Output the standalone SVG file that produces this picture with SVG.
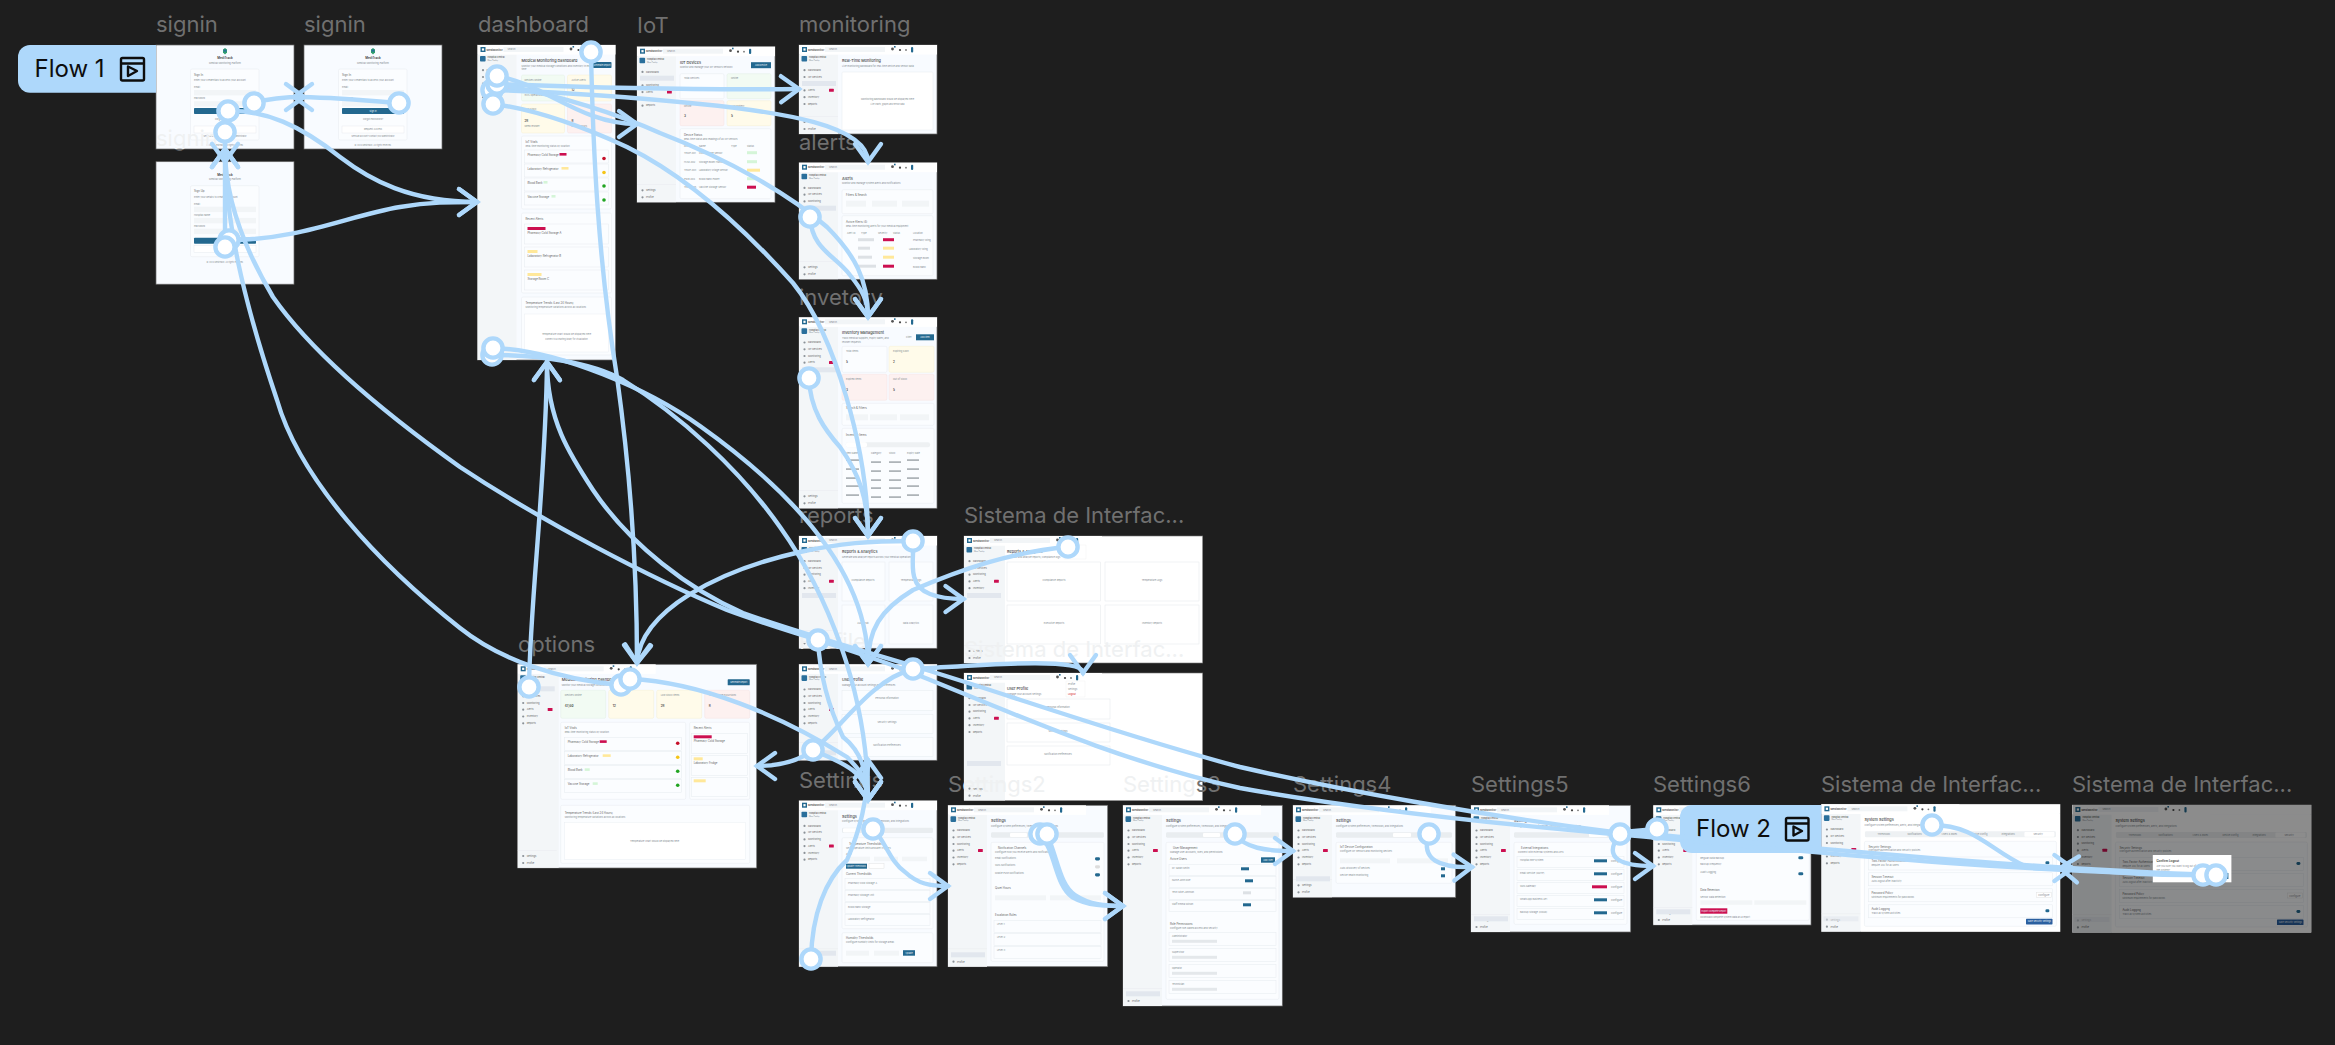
<svg xmlns="http://www.w3.org/2000/svg" width="2335" height="1045" viewBox="0 0 2335 1045">
<style>
text{font-family:Inter,"Liberation Sans",sans-serif}
.lb{font-size:22px;fill:#707070}
.fa{fill:#eff1f2}
.fr{fill:#f8fbff;stroke:#6a6a6a;stroke-width:.7}
.wh{fill:#fff}
.side{fill:#f3f6f8}
.card{fill:#fbfdff;stroke:#e6ebef;stroke-width:.5}
.in{fill:#f2f5f7}
.act{fill:#e2e7ee}
.g{fill:#f2fbf3;stroke:#dfeee0;stroke-width:.4}
.y{fill:#fffbea;stroke:#f6eecb;stroke-width:.4}
.r{fill:#fdf1f0;stroke:#f5dfdd;stroke-width:.4}
.bt{fill:#23688f}
.rd{fill:#cc0f50}
.t1{font-size:3.8px;fill:#444;font-weight:500}
.t2{font-size:2.4px;fill:#868d92}
.t3{font-size:2.8px;fill:#666}
.t4{font-size:3px;fill:#333;font-weight:600}
.tw{font-size:2.2px;fill:#e8f2f8}
.tc{text-anchor:middle}
.c{fill:none;stroke:#aed8fb;stroke-width:4.4;stroke-linecap:round}
.e{marker-end:url(#ah)}
.o{fill:#fff;stroke:#aed8fb;stroke-width:4.4}
.tag{fill:#aed8fb}
.tt{font-size:24px;fill:#0d0d0d}
.ic{fill:none;stroke:#0d0d0d;stroke-width:2.4;stroke-linejoin:round}
</style>
<defs>
<linearGradient id="lbg" gradientUnits="userSpaceOnUse" x1="0" y1="130" x2="0" y2="155"><stop offset=".76" stop-color="#eff1f2"/><stop offset=".76" stop-color="#707070"/></linearGradient>
<marker id="ah" markerUnits="userSpaceOnUse" markerWidth="44" markerHeight="44" refX="22" refY="22" orient="auto" overflow="visible"><path d="M4 9L22 22L4 35" fill="none" stroke="#aed8fb" stroke-width="4.4" stroke-linecap="round"/></marker>
<g id="head">
<rect class="wh" width="138" height="9.5"/>
<rect x="3" y="2" width="5" height="5" class="bt"/><rect x="4.4" y="3.4" width="2.2" height="2.2" class="wh"/>
<text x="9" y="5.6" class="t3" style="font-weight:700;font-size:2.6px">MediMonitor</text>
<rect x="26" y="2" width="60" height="5" class="in"/><text x="30" y="5.3" class="t2">Search...</text>
<circle cx="93.5" cy="4" r="1.4" fill="#555"/><rect x="95" y="1" width="1.6" height="1.6" class="bt"/><circle cx="101" cy="5" r="1.1" fill="#444"/><circle cx="107" cy="5" r=".9" fill="#777"/><rect x="112" y="2" width="2.2" height="5.4" rx="1" class="bt"/>
</g>
<g id="nav">
<rect x="2.5" y="11" width="5.6" height="5.6" rx=".8" fill="#2a6f9b"/>
<text x="10" y="13.4" class="t3" style="font-size:2.2px;font-weight:600">Hospital Central</text><text x="10" y="16.2" class="t2" style="font-size:1.8px">Main Facility</text>
<g class="t3"><text x="9" y="26" class="t3" style="font-size:2.5px">Dashboard</text><text x="9" y="32.7" class="t3" style="font-size:2.5px">IoT Devices</text><text x="9" y="39.4" class="t3" style="font-size:2.5px">Monitoring</text><text x="9" y="46.1" class="t3" style="font-size:2.5px">Alerts</text><text x="9" y="53" class="t3" style="font-size:2.5px">Inventory</text><text x="9" y="59.8" class="t3" style="font-size:2.5px">Reports</text></g>
<g fill="#8a9197"><circle cx="5.5" cy="25.2" r="1.1"/><circle cx="5.5" cy="32" r="1.1"/><circle cx="5.5" cy="38.7" r="1.1"/><circle cx="5.5" cy="45.4" r="1.1"/><circle cx="5.5" cy="52.2" r="1.1"/><circle cx="5.5" cy="59" r="1.1"/></g>
<rect x="30" y="43.8" width="4.8" height="3" rx=".5" class="rd"/>
</g>
<g id="foot">
<rect y="-18" width="39" height=".4" fill="#e6e9ec"/>
<circle cx="5.5" cy="-12" r="1.1" fill="#8a9197"/><text x="9" y="-11.2" class="t3" style="font-size:2.5px">Settings</text>
<circle cx="5.5" cy="-5" r="1.1" fill="#8a9197"/><text x="9" y="-4.2" class="t3" style="font-size:2.5px">Profile</text>
</g>
<g id="login">
<rect class="fr" width="138" height="104"/>
<path d="M69 3l2 1.6v3l-2 2-2-2v-3z" fill="#2f9e6e"/><rect x="67.6" y="4.6" width="2.8" height="2" fill="#2a6f9b"/>
<text x="69" y="14.2" class="t4 tc">MediTrack</text><text x="69" y="18.6" class="t2 tc">Medical Monitoring Platform</text>
<rect x="34.5" y="24" width="68.5" height="71" rx="1.5" class="card"/>
<text x="38" y="30.5" class="t3">Sign In</text><text x="38" y="36" class="t2">Enter your credentials to access your account</text>
<text x="38" y="43" class="t2" fill="#333">Email</text><rect x="38" y="45" width="62" height="5.4" class="in"/>
<text x="38" y="54" class="t2">Password</text><rect x="38" y="56.2" width="62" height="5.4" class="in"/>
<rect x="38" y="63" width="62" height="6" rx=".8" class="bt"/><text x="69" y="67" class="tw tc">Sign In</text>
<text x="69" y="75" class="t2 tc">Forgot Password?</text>
<rect x="38" y="81" width="62" height="7" class="wh" stroke="#e3e7ea" stroke-width=".4"/><text x="69" y="85.4" class="t2 tc">Request Access</text>
<text x="69" y="92" class="t2 tc" style="font-size:2px">Need an account? Contact your administrator</text>
<text x="69" y="100.5" class="t2 tc" style="font-size:2px">© 2024 MediTrack. All rights reserved.</text>
</g>
<g id="sys">
<rect class="fr" width="238.7" height="127.4"/>
<rect class="wh" width="238.7" height="9.5"/><rect x="39" y="9.5" width="199.7" height="117.9" class="wh"/>
<rect y="9.5" width="39" height="117.9" class="side"/>
<use href="#head"/><use href="#nav"/><use href="#foot" y="127.4"/><rect x="2" y="112" width="35" height="5" class="act" opacity=".6"/>
<text x="43" y="17" class="t1">System Settings</text><text x="43" y="21.5" class="t2">Configure system preferences, alerts, and integrations</text>
<rect x="43.5" y="27" width="191" height="6" rx="1.4" fill="#eef1f3"/><rect x="203" y="27.6" width="30" height="4.8" rx="1" class="wh"/>
<text x="56" y="30.8" class="t2">Thresholds</text><text x="86" y="30.8" class="t2">Notifications</text><text x="120" y="30.8" class="t2">Users &amp; Roles</text><text x="150" y="30.8" class="t2">Device Config</text><text x="180" y="30.8" class="t2">Integrations</text><text x="212" y="30.8" class="t2">Security</text>
<rect x="43" y="37" width="192" height="85" rx="1.5" class="card"/>
<text x="47" y="43.5" class="t3">Security Settings</text><text x="47" y="47" class="t2">Configure authentication and security policies</text>
<rect x="47" y="52.7" width="184" height="13" class="card"/><text x="50" y="58" class="t3">Two-Factor Authentication</text><text x="50" y="62" class="t2">Require 2FA for all users</text><rect x="224" y="57" width="4" height="3" rx="1.4" class="bt"/>
<rect x="47" y="68.5" width="184" height="13" class="card"/><text x="50" y="74" class="t3">Session Timeout</text><text x="50" y="78" class="t2">Auto-logout after inactivity</text>
<rect x="47" y="84.5" width="184" height="13" class="card"/><text x="50" y="90" class="t3">Password Policy</text><text x="50" y="94" class="t2">Minimum requirements for passwords</text><rect x="215" y="88" width="15" height="5" class="wh" stroke="#ddd" stroke-width=".4"/><text x="222.5" y="91.5" class="t2 tc">Configure</text>
<rect x="47" y="100.5" width="184" height="13" class="card"/><text x="50" y="106" class="t3">Audit Logging</text><text x="50" y="110" class="t2">Track all system activities</text><rect x="224" y="105" width="4" height="3" rx="1.4" class="bt"/>
<rect x="204.6" y="114.5" width="26.5" height="5.6" rx=".6" fill="#2a5f9f"/><text x="218" y="118.2" class="tw tc">Save Security Settings</text>
</g>
</defs>
<rect width="2335" height="1045" fill="#1e1e1e"/>

<g id="labels-top">
<text x="156" y="32" class="lb">signin</text><text x="304" y="32" class="lb">signin</text><text x="478" y="32" class="lb">dashboard</text><text x="637" y="33" class="lb">IoT</text><text x="799" y="32" class="lb">monitoring</text><text x="799" y="150" class="lb">alerts</text><text x="799" y="305" class="lb">invetory</text><text x="799" y="523" class="lb">reports</text><text x="964" y="523" class="lb">Sistema de Interfac...</text><text x="518" y="652" class="lb">options</text><text x="799" y="788" class="lb">Settings</text><text x="1293" y="792" class="lb">Settings4</text><text x="1471" y="792" class="lb">Settings5</text><text x="1653" y="792" class="lb">Settings6</text><text x="1821" y="792" class="lb">Sistema de Interfac...</text><text x="2072" y="792" class="lb">Sistema de Interfac...</text>
</g>

<g id="signin-1" transform="translate(156 45)"><use href="#login"/></g>
<g id="signin-2" transform="translate(304 45)"><use href="#login"/></g>
<g id="signup" transform="translate(156 161.7)">
<rect class="fr" width="138" height="122.5"/>
<path d="M69 3l2 1.6v3l-2 2-2-2v-3z" fill="#2f9e6e"/>
<text x="69" y="14.2" class="t4 tc">MediTrack</text><text x="69" y="18.6" class="t2 tc">Medical Monitoring Platform</text>
<rect x="34.5" y="24" width="68.5" height="71" rx="1.5" class="card"/>
<text x="38" y="30.5" class="t3">Sign Up</text><text x="38" y="36" class="t2">Enter your details to create an account</text>
<text x="38" y="43" class="t2">Email</text><rect x="38" y="45" width="62" height="5.4" class="in"/>
<text x="38" y="54" class="t2">Hospital name</text><rect x="38" y="56.2" width="62" height="5.4" class="in"/>
<text x="38" y="65" class="t2">Password</text><rect x="38" y="67" width="62" height="5.4" class="in"/>
<rect x="38" y="76" width="62" height="6" rx=".8" class="bt"/>
<rect x="38" y="84" width="62" height="6.5" class="wh" stroke="#e3e7ea" stroke-width=".4"/>
<text x="69" y="101" class="t2 tc" style="font-size:2px">© 2024 MediTrack. All rights reserved.</text>
</g>

<g id="dashboard" transform="translate(477.5 45)">
<rect class="fr" width="138" height="315"/><rect y="9.5" width="39" height="305.5" class="side"/>
<use href="#head"/><use href="#nav"/>
<text x="44" y="17" class="t1">Medical Monitoring Dashboard</text><text x="44" y="22" class="t2">Monitor your medical storage conditions and inventory in real</text><text x="44" y="25.4" class="t2">time</text>
<rect x="115" y="17" width="19" height="6" rx=".8" class="bt"/><text x="124.5" y="20.8" class="tw tc">Generate Report</text>
<rect x="44" y="30" width="43" height="26" rx="1.5" class="g"/><rect x="90" y="30" width="44" height="26" rx="1.5" class="y"/>
<text x="47" y="36" class="t2">Devices Online</text><text x="94" y="36" class="t2">Active Alerts</text><text x="47" y="46" class="t4">47/50</text><text x="94" y="46" class="t4">12</text><text x="47" y="51" class="t2">94% operational</text><text x="94" y="51" class="t2">3 critical</text>
<rect x="44" y="59" width="43" height="29" rx="1.5" class="y"/><rect x="90" y="59" width="44" height="29" rx="1.5" class="r"/>
<text x="47" y="65" class="t2">Low Stock</text><text x="47" y="77" class="t4">28</text><text x="94" y="77" class="t4">8</text><text x="47" y="82" class="t2">Need reorder</text><text x="94" y="82" class="t2">Last 24 hours</text>
<rect x="44" y="91" width="90" height="73" rx="1.5" class="card"/>
<text x="48" y="98" class="t3">IoT Vitals</text><text x="48" y="102" class="t2">Real-time monitoring status by location</text>
<g><rect x="47" y="105" width="84" height="13" class="card"/><rect x="47" y="119" width="84" height="13" class="card"/><rect x="47" y="133" width="84" height="13" class="card"/><rect x="47" y="147" width="84" height="13" class="card"/>
<text x="50" y="110.5" class="t3">Pharmacy Cold Storage</text><text x="50" y="124.5" class="t3">Laboratory Refrigerator</text><text x="50" y="138.5" class="t3">Blood Bank</text><text x="50" y="152.5" class="t3">Vaccine Storage</text>
<rect x="82" y="108" width="7" height="2.6" class="rd"/><rect x="84" y="122" width="7" height="2.6" fill="#ffe89a"/><rect x="66" y="136" width="4" height="2.6" fill="#d5f5d8"/><rect x="74" y="150" width="4" height="2.6" fill="#d5f5d8"/>
<circle cx="126.5" cy="113.5" r="1.8" fill="#c6102a"/><circle cx="126.5" cy="127.5" r="1.8" fill="#f5c518"/><circle cx="126.5" cy="141" r="1.8" fill="#22a522"/><circle cx="126.5" cy="155" r="1.8" fill="#22a522"/></g>
<rect x="44" y="168" width="90" height="80" rx="1.5" class="card"/>
<text x="48" y="175" class="t3">Recent Alerts</text>
<rect x="47" y="179" width="84" height="20" class="card"/><rect x="50" y="182" width="18" height="3" class="rd"/><text x="50" y="189" class="t3">Pharmacy Cold Storage A</text>
<rect x="47" y="202" width="84" height="20" class="card"/><rect x="50" y="205" width="10" height="3" fill="#ffe89a"/><text x="50" y="211.5" class="t3">Laboratory Refrigerator B</text>
<rect x="47" y="225" width="84" height="20" class="card"/><rect x="50" y="228" width="14" height="3" fill="#ffe89a"/><text x="50" y="234.5" class="t3">Storage Room C</text>
<rect x="44" y="252" width="90" height="58" rx="1.5" class="card"/>
<text x="48" y="258.5" class="t3">Temperature Trends (Last 24 Hours)</text><text x="48" y="262.5" class="t2">Monitoring temperature variations across all locations</text>
<rect x="47" y="269" width="84" height="38" class="wh" stroke="#e6ebef" stroke-width=".4"/><text x="89" y="290" class="t2 tc">Temperature chart would be displayed here</text><text x="89" y="295" class="t2 tc" style="font-size:2px">Connect to a charting library for visualization</text>
</g>

<g id="iot" transform="translate(637 46.7)">
<rect class="fr" width="138" height="155.6"/><rect y="9.5" width="39" height="146" class="side"/>
<use href="#head"/><use href="#nav"/><use href="#foot" y="155.6"/><rect x="3" y="29" width="34" height="5" class="act"/>
<text x="43" y="17" class="t1">IoT Devices</text><text x="43" y="21.5" class="t2">Monitor and manage your IoT sensors network</text>
<rect x="114" y="15.5" width="20" height="6" class="bt"/><text x="124" y="19.5" class="tw tc">Add Device</text>
<rect x="43" y="27" width="44" height="25" rx="1.5" class="card"/><rect x="90" y="27" width="44" height="25" rx="1.5" class="g"/><rect x="43" y="54" width="44" height="25" rx="1.5" class="r"/><rect x="90" y="54" width="44" height="25" rx="1.5" class="y"/>
<text x="47" y="32" class="t2">Total Devices</text><text x="94" y="32" class="t2">Online</text><text x="47" y="60" class="t2">Offline</text><text x="94" y="60" class="t2">Low Battery</text><text x="47" y="70" class="t4">3</text><text x="94" y="70" class="t4">5</text>
<rect x="43" y="82" width="91" height="70" rx="1.5" class="card"/>
<text x="47" y="89" class="t3">Device Status</text><text x="47" y="93" class="t2">Real-time status and readings of all IoT sensors</text>
<text x="47" y="100" class="t2">Device ID</text><text x="62" y="100" class="t2">Name</text><text x="94" y="100" class="t2">Type</text><text x="110" y="100" class="t2">Status</text>
<text x="47" y="107" class="t2">TEMP-001</text><text x="62" y="107" class="t2">Cold Storage Sensor</text><rect x="110" y="104.5" width="10" height="3" fill="#d5f5d8"/>
<text x="47" y="116" class="t2">HUM-002</text><text x="62" y="116" class="t2">Storage Room Humidity</text><rect x="110" y="113.5" width="10" height="3" fill="#d5f5d8"/>
<text x="47" y="124" class="t2">TEMP-003</text><text x="62" y="124" class="t2">Laboratory Fridge Sensor</text><rect x="110" y="122" width="13" height="3" fill="#ffe89a"/>
<text x="47" y="133" class="t2">PWR-004</text><text x="62" y="133" class="t2">Blood Bank Power</text><rect x="110" y="130.5" width="10" height="3" fill="#d5f5d8"/>
<text x="47" y="141" class="t2">TEMP-005</text><text x="62" y="141" class="t2">Vaccine Storage Sensor</text><rect x="110" y="139" width="9" height="3" class="rd"/>
</g>

<g id="monitoring" transform="translate(799 45)">
<rect class="fr" width="138" height="89"/><rect y="9.5" width="39" height="79.5" class="side"/>
<use href="#head"/><use href="#nav"/><use href="#foot" y="89"/><rect x="3" y="36" width="34" height="5" class="act"/>
<text x="43" y="17" class="t1">Real-Time Monitoring</text><text x="43" y="21.5" class="t2">Live monitoring dashboard for real-time device and sensor data</text>
<rect x="43" y="27" width="91" height="58" rx="1" class="wh" stroke="#e6ebef" stroke-width=".5"/>
<text x="88.5" y="55" class="t2 tc">Monitoring dashboard would be displayed here</text><text x="88.5" y="60" class="t2 tc" style="font-size:2px">Live charts, graphs and sensor data</text>
</g>

<g id="alerts" transform="translate(799 162.7)">
<rect class="fr" width="138" height="116.6"/><rect y="9.5" width="39" height="107" class="side"/>
<use href="#head"/><use href="#nav"/><use href="#foot" y="116.6"/><rect x="3" y="43" width="34" height="5" class="act"/>
<text x="43" y="17" class="t1">Alerts</text><text x="43" y="21.5" class="t2">Monitor and manage system alerts and notifications</text>
<rect x="43" y="27" width="91" height="24" rx="1.5" class="card"/><text x="47" y="33" class="t3">Filters &amp; Search</text><rect x="47" y="38" width="20" height="6" class="in"/><rect x="73" y="38" width="25" height="6" class="in"/><rect x="103" y="38" width="27" height="6" class="in"/>
<rect x="43" y="53" width="91" height="60" rx="1.5" class="card"/><text x="47" y="60" class="t3">Active Alerts (4)</text><text x="47" y="64" class="t2">Real-time monitoring alerts for your medical equipment</text>
<text x="48" y="71" class="t2">Alert ID</text><text x="62" y="71" class="t2">Type</text><text x="79" y="71" class="t2">Severity</text><text x="94" y="71" class="t2">Status</text><text x="114" y="71" class="t2">Location</text>
<rect x="59" y="75.5" width="16" height="3" fill="#dde1e5"/><rect x="84" y="75.5" width="11" height="3" class="rd"/><text x="114" y="78.5" class="t2">Pharmacy Wing</text>
<rect x="59" y="84" width="12" height="3" fill="#dde1e5"/><rect x="84" y="84" width="11" height="3" fill="#ffe89a"/><text x="110" y="87" class="t2">Laboratory Wing</text>
<rect x="59" y="93" width="14" height="3" fill="#dde1e5"/><rect x="84" y="93" width="11" height="3" fill="#ffe89a"/><text x="114" y="96" class="t2">Storage Room</text>
<rect x="59" y="102" width="18" height="3" fill="#dde1e5"/><rect x="84" y="102" width="11" height="3" class="rd"/><text x="114" y="105" class="t2">Blood Bank</text>
</g>

<g id="inventory" transform="translate(799 317.3)">
<rect class="fr" width="138" height="191"/><rect y="9.5" width="39" height="181.5" class="side"/>
<use href="#head"/><use href="#nav"/><use href="#foot" y="191"/>
<rect x="3" y="50" width="34" height="5" class="act"/>
<text x="43" y="17" class="t1">Inventory Management</text><text x="43" y="22" class="t2">Track medical supplies, expiry dates, and</text><text x="43" y="26" class="t2">reorder requests</text>
<rect x="117" y="17" width="18" height="6" class="bt"/><text x="126" y="21" class="tw tc">Add Item</text><text x="107" y="21" class="t2">Filter</text>
<rect x="43" y="29" width="45" height="26" rx="1.5" class="card"/><rect x="90" y="29" width="45" height="26" rx="1.5" class="y"/><rect x="43" y="57" width="45" height="26" rx="1.5" class="r"/><rect x="90" y="57" width="45" height="26" rx="1.5" class="r"/>
<text x="47" y="35" class="t2">Total Items</text><text x="94" y="35" class="t2">Expiring Soon</text><text x="47" y="63" class="t2">Expired Items</text><text x="94" y="63" class="t2">Out of Stock</text><text x="47" y="46" class="t4">5</text><text x="94" y="46" class="t4">2</text><text x="47" y="74" class="t4">3</text><text x="94" y="74" class="t4">5</text>
<rect x="43" y="86" width="92" height="22" rx="1.5" class="card"/><text x="47" y="92" class="t3">Search &amp; Filters</text><rect x="47" y="97" width="22" height="6" class="in"/><rect x="71" y="97" width="27" height="6" class="in"/><rect x="101" y="97" width="29" height="6" class="in"/>
<rect x="43" y="111" width="92" height="75" rx="1.5" class="card"/><text x="47" y="119" class="t3">Inventory Items</text><rect x="47" y="125" width="84" height="5" rx="2" fill="#eef1f3"/><rect x="47" y="125" width="21" height="5" rx="2" class="wh"/>
<text x="47" y="137" class="t2">Item Name</text><text x="72" y="137" class="t2">Category</text><text x="90" y="137" class="t2">Stock</text><text x="108" y="137" class="t2">Expiry Date</text>
<g fill="#a6acb1"><rect x="47" y="142" width="13" height="1.6"/><rect x="72" y="144" width="10" height="1.6"/><rect x="90" y="144" width="12" height="1.6"/><rect x="108" y="142" width="12" height="1.6"/><rect x="47" y="151" width="13" height="1.6"/><rect x="72" y="153" width="10" height="1.6"/><rect x="90" y="153" width="12" height="1.6"/><rect x="108" y="151" width="12" height="1.6"/><rect x="47" y="160" width="13" height="1.6"/><rect x="72" y="162" width="10" height="1.6"/><rect x="90" y="162" width="12" height="1.6"/><rect x="108" y="160" width="12" height="1.6"/><rect x="47" y="168" width="13" height="1.6"/><rect x="72" y="170" width="10" height="1.6"/><rect x="90" y="170" width="12" height="1.6"/><rect x="108" y="168" width="12" height="1.6"/><rect x="47" y="177" width="13" height="1.6"/><rect x="72" y="179" width="10" height="1.6"/><rect x="90" y="179" width="12" height="1.6"/><rect x="108" y="177" width="12" height="1.6"/></g>
</g>

<g id="reports" transform="translate(799 536)">
<rect class="fr" width="138" height="112.3"/><rect y="9.5" width="39" height="103" class="side"/>
<use href="#head"/><use href="#nav"/><use href="#foot" y="112.3"/><rect x="3" y="57" width="34" height="5" class="act"/>
<text x="43" y="17" class="t1">Reports &amp; Analytics</text><text x="43" y="21.5" class="t2">Generate and analyze reports across your medical operations</text>
<rect x="43" y="26" width="43" height="39" class="card"/><rect x="90" y="26" width="44" height="39" class="card"/><rect x="43" y="69" width="43" height="39" class="card"/><rect x="90" y="69" width="44" height="39" class="card"/>
<text x="64" y="45" class="t2 tc">Compliance Reports</text><text x="112" y="45" class="t2 tc">Temperature Logs</text><text x="64" y="88" class="t2 tc">Audit Trail</text><text x="112" y="88" class="t2 tc">Data Analytics</text>
</g>

<g id="profile-small" transform="translate(799 664.3)">
<rect class="fr" width="138" height="96"/><rect y="9.5" width="39" height="86.5" class="side"/>
<use href="#head"/><use href="#nav"/><use href="#foot" y="96"/><rect x="3" y="86" width="34" height="5" class="act"/>
<text x="43" y="17" class="t1">User Profile</text><text x="43" y="21.5" class="t2">Manage your account settings and preferences</text>
<rect x="43" y="26" width="91" height="20" class="card"/><rect x="43" y="50" width="91" height="19" class="card"/><rect x="43" y="73" width="91" height="19" class="card"/>
<text x="88" y="35" class="t2 tc">Personal Information</text><text x="88" y="59" class="t2 tc">Security Settings</text><text x="88" y="82" class="t2 tc">Notification Preferences</text>
</g>

<g id="settings" transform="translate(799 800.7)">
<rect class="fr" width="138" height="166"/><rect y="9.5" width="39" height="156.5" class="side"/>
<use href="#head"/><use href="#nav"/><use href="#foot" y="166"/><rect x="3" y="150" width="34" height="5" class="act"/>
<text x="43" y="17" class="t1">Settings</text><text x="43" y="21.5" class="t2">Configure system preferences, thresholds, and integrations</text>
<rect x="43" y="27" width="91" height="5.4" rx="1.4" fill="#e9edf0"/><rect x="44" y="27.6" width="15" height="4.2" rx="1" class="wh"/>
<rect x="43" y="37" width="91" height="91" rx="1.5" class="card"/><text x="50" y="44" class="t3">Temperature Thresholds</text><text x="47" y="48" class="t2">Set temperature limits and alert triggers</text>
<text x="47" y="54" class="t2">Zone</text><rect x="47" y="56" width="24" height="4.5" class="in"/><rect x="75" y="56" width="24" height="4.5" class="in"/><rect x="103" y="56" width="25" height="4.5" class="in"/>
<rect x="47" y="63" width="21" height="5" class="bt"/><text x="57" y="66.5" class="tw tc">Update Thresholds</text><rect x="70" y="63" width="15" height="5" class="wh" stroke="#ddd" stroke-width=".4"/>
<text x="47" y="74" class="t3">Current Thresholds</text>
<rect x="46" y="78" width="85" height="11" class="card"/><text x="49" y="83" class="t2">Pharmacy Cold Storage A</text>
<rect x="46" y="90" width="85" height="11" class="card"/><text x="49" y="95" class="t2">Pharmacy Storage Unit</text>
<rect x="46" y="102" width="85" height="11" class="card"/><text x="49" y="107" class="t2">Blood Bank Storage</text>
<rect x="46" y="114" width="85" height="11" class="card"/><text x="49" y="119" class="t2">Laboratory Refrigerator</text>
<rect x="43" y="132" width="91" height="30" rx="1.5" class="card"/><text x="47" y="138" class="t3">Humidity Thresholds</text><text x="47" y="142" class="t2">Configure humidity limits for storage areas</text>
<rect x="47" y="150" width="23" height="5" class="in"/><rect x="75" y="150" width="25" height="5" class="in"/><rect x="104" y="149.5" width="12" height="5.5" class="bt"/><text x="110" y="153" class="tw tc">Update</text>
</g>

<g id="options" transform="translate(517.7 664.3)">
<rect class="fr" width="239" height="203.7"/><rect y="9.5" width="41" height="194" class="side"/>
<use href="#head"/><use href="#nav"/><use href="#foot" y="203.7"/><rect x="3" y="22" width="34" height="5" class="act"/>
<text x="44" y="17" class="t1">Medical Monitoring Dashboard</text><text x="44" y="22" class="t2">Monitor your medical storage conditions</text>
<rect x="210" y="15" width="22" height="6" rx=".6" class="bt"/><text x="221" y="19" class="tw tc">Generate Report</text>
<rect x="43" y="26" width="45" height="28" rx="1.5" class="g"/><rect x="91" y="26" width="45" height="28" rx="1.5" class="y"/><rect x="139" y="26" width="45" height="28" rx="1.5" class="y"/><rect x="187" y="26" width="45" height="28" rx="1.5" class="r"/>
<text x="47" y="32" class="t2">Devices Online</text><text x="47" y="43" class="t4">47/50</text><text x="95" y="43" class="t4">12</text><text x="143" y="43" class="t4">28</text><text x="191" y="43" class="t4">8</text><text x="143" y="32" class="t2">Low Stock Items</text><text x="191" y="32" class="t2">Temperature Excursions</text>
<rect x="43" y="58" width="125" height="77" rx="1.5" class="card"/><text x="47" y="65" class="t3">IoT Vitals</text><text x="47" y="69" class="t2">Real-time monitoring status by location</text>
<rect x="47" y="73" width="117" height="13" class="card"/><rect x="47" y="87" width="117" height="13" class="card"/><rect x="47" y="101" width="117" height="13" class="card"/><rect x="47" y="115" width="117" height="13" class="card"/>
<text x="50" y="78.5" class="t3">Pharmacy Cold Storage</text><text x="50" y="92.5" class="t3">Laboratory Refrigerator</text><text x="50" y="106.5" class="t3">Blood Bank</text><text x="50" y="120.5" class="t3">Vaccine Storage</text>
<rect x="82" y="76" width="7" height="2.6" class="rd"/><rect x="85" y="90" width="8" height="2.6" fill="#ffe89a"/><rect x="67" y="104" width="5" height="2.6" fill="#d5f5d8"/><rect x="75" y="118" width="5" height="2.6" fill="#d5f5d8"/>
<circle cx="160" cy="79" r="1.8" fill="#c6102a"/><circle cx="160" cy="93" r="1.8" fill="#f5c518"/><circle cx="160" cy="107" r="1.8" fill="#22a522"/><circle cx="160" cy="121" r="1.8" fill="#22a522"/>
<rect x="172" y="58" width="60" height="77" rx="1.5" class="card"/><text x="176" y="65" class="t3">Recent Alerts</text><rect x="174" y="69" width="56" height="20" class="card"/><rect x="176" y="71" width="18" height="3" class="rd"/><text x="176" y="78" class="t3">Pharmacy Cold Storage</text><rect x="174" y="91" width="56" height="20" class="card"/><rect x="176" y="93" width="9" height="3" fill="#ffe89a"/><text x="176" y="100" class="t3">Laboratory Fridge</text><rect x="174" y="113" width="56" height="19" class="card"/><rect x="176" y="115" width="12" height="3" fill="#ffe89a"/>
<rect x="43" y="141" width="189" height="58" rx="1.5" class="card"/><text x="47" y="150" class="t3">Temperature Trends (Last 24 Hours)</text><text x="47" y="154" class="t2">Monitoring temperature variations across all locations</text><rect x="47" y="158" width="181" height="37" class="wh" stroke="#e6ebef" stroke-width=".4"/><text x="137" y="178" class="t2 tc">Temperature chart would be displayed here</text>
</g>

<g id="sistema-reports" transform="translate(964 536)">
<rect class="wh" width="238.7" height="127" stroke="#777" stroke-width=".6"/><rect y="9.5" width="41" height="117.5" class="side"/>
<use href="#head"/><use href="#nav"/><use href="#foot" y="127"/><rect x="3" y="57" width="34" height="5" class="act"/>
<rect x="100" y="9" width="22" height="14" class="wh" stroke="#eee" stroke-width=".4"/>
<text x="43" y="17" class="t1">Reports &amp; Analytics</text><text x="43" y="21.5" class="t2">Generate and analyze reports, compliance logs</text>
<rect x="43" y="26" width="93.5" height="39" class="wh" stroke="#e3e7ea" stroke-width=".5"/><rect x="141" y="26" width="94" height="39" class="wh" stroke="#e3e7ea" stroke-width=".5"/><rect x="43" y="69" width="93.5" height="39" class="wh" stroke="#e3e7ea" stroke-width=".5"/><rect x="141" y="69" width="94" height="39" class="wh" stroke="#e3e7ea" stroke-width=".5"/>
<text x="90" y="45" class="t2 tc">Compliance Reports</text><text x="188" y="45" class="t2 tc">Temperature Logs</text><text x="90" y="88" class="t2 tc">Executive Reports</text><text x="188" y="88" class="t2 tc">Inventory Reports</text>
</g>

<g id="sistema-profile" transform="translate(964 673)">
<rect class="wh" width="238.7" height="127.7" stroke="#777" stroke-width=".6"/><rect y="9.5" width="41" height="118" class="side"/>
<use href="#head"/><use href="#nav"/><use href="#foot" y="127.7"/><rect x="3" y="88" width="34" height="5" class="act"/>
<rect x="102" y="8" width="19" height="16" class="wh" stroke="#eee" stroke-width=".4"/><text x="104" y="12" class="t2">Profile</text><text x="104" y="17" class="t2">Settings</text><text x="104" y="21.5" class="t2" style="fill:#d42020">Logout</text>
<text x="43" y="17" class="t1">User Profile</text><text x="43" y="21.5" class="t2">Manage your account settings</text>
<rect x="43" y="26" width="103" height="20" class="wh" stroke="#e3e7ea" stroke-width=".5"/><rect x="43" y="50" width="103" height="19" class="wh" stroke="#e3e7ea" stroke-width=".5"/><rect x="43" y="73" width="103" height="19" class="wh" stroke="#e3e7ea" stroke-width=".5"/>
<text x="94" y="35" class="t2 tc">Personal Information</text><text x="94" y="59" class="t2 tc">Security Settings</text><text x="94" y="82" class="t2 tc">Notification Preferences</text>
</g>

<g id="labels-over">
<text x="948" y="792" class="lb"><tspan>S</tspan><tspan class="fa">ettings2</tspan></text>
<text x="1123" y="792" class="lb"><tspan class="fa">Setting</tspan><tspan>s3</tspan></text>
<text x="156" y="146" class="lb" style="fill:url(#lbg)">signin</text>
<text x="799" y="649" class="lb fa">Profile</text>
<text x="964" y="657" class="lb fa">Sistema de Interfac...</text>
</g>

<g id="settings2" transform="translate(948 805.3)">
<rect class="fr" width="159.7" height="161.4"/><rect y="9.5" width="39" height="152" class="side"/>
<use href="#head"/><use href="#nav"/><use href="#foot" y="161.4"/><rect x="3" y="147" width="34" height="5" class="act"/>
<text x="43" y="17" class="t1">Settings</text><text x="43" y="21.5" class="t2">Configure system preferences, thresholds, and integrations</text>
<rect x="43" y="27" width="113" height="5.4" rx="1.4" fill="#e9edf0"/><rect x="62" y="27.6" width="17" height="4.2" rx="1" class="wh"/>
<rect x="43" y="37" width="113" height="119" rx="1.5" class="card"/><text x="50" y="43.5" class="t3">Notification Channels</text><text x="47" y="47.5" class="t2">Configure how you receive alerts and notifications</text>
<text x="47" y="53.5" class="t2">Email Notifications</text><text x="47" y="61" class="t2">SMS Notifications</text><text x="47" y="69" class="t2">Mobile Push Notifications</text>
<rect x="147" y="52" width="5" height="3.2" rx="1.4" class="bt"/><rect x="147" y="60" width="5" height="3.2" rx="1.4" fill="#ddd"/><rect x="147" y="68" width="5" height="3.2" rx="1.4" class="bt"/>
<text x="47" y="84" class="t3">Quiet Hours</text><rect x="47" y="90" width="51" height="5" class="in"/><rect x="102" y="90" width="51" height="5" class="in"/>
<text x="47" y="111" class="t3">Escalation Rules</text>
<rect x="46" y="115" width="107" height="12" class="card"/><text x="49" y="119.5" class="t2">Level 1</text><rect x="46" y="128" width="107" height="12" class="card"/><text x="49" y="132.5" class="t2">Level 2</text><rect x="46" y="141" width="107" height="12" class="card"/><text x="49" y="145.5" class="t2">Level 3</text>
</g>

<g id="settings3" transform="translate(1123 805.3)">
<rect class="fr" width="159.3" height="200.7"/><rect y="9.5" width="39" height="191.2" class="side"/>
<use href="#head"/><use href="#nav"/><use href="#foot" y="200.7"/><rect x="3" y="186" width="34" height="5" class="act"/>
<text x="43" y="17" class="t1">Settings</text><text x="43" y="21.5" class="t2">Configure system preferences, thresholds, and integrations</text>
<rect x="43" y="27" width="113" height="5.4" rx="1.4" fill="#e9edf0"/><rect x="80" y="27.6" width="17" height="4.2" rx="1" class="wh"/>
<rect x="43" y="37" width="113" height="157" rx="1.5" class="card"/><text x="50" y="43.5" class="t3">User Management</text><text x="47" y="47.5" class="t2">Manage user accounts, roles, and permissions</text>
<text x="47" y="55" class="t3">Active Users</text><rect x="138" y="52" width="14" height="5.4" class="bt"/><text x="145" y="55.6" class="tw tc">Add User</text>
<rect x="46" y="59" width="107" height="11" class="card"/><text x="49" y="64" class="t2">Dr. Sarah Smith</text><rect x="118" y="62" width="8" height="3" class="bt"/>
<rect x="46" y="71" width="107" height="11" class="card"/><text x="49" y="76" class="t2">Nurse John Doe</text><rect x="122" y="74" width="8" height="3" class="bt"/>
<rect x="46" y="83" width="107" height="11" class="card"/><text x="49" y="88" class="t2">Tech Mike Johnson</text><rect x="120" y="86" width="8" height="3" fill="#dde1e5"/>
<rect x="46" y="95" width="107" height="11" class="card"/><text x="49" y="100" class="t2">Staff Emma Wilson</text><rect x="120" y="98" width="8" height="3" class="bt"/>
<text x="47" y="120" class="t3">Role Permissions</text><text x="47" y="124" class="t2">Configure role-based access and security</text>
<rect x="46" y="127" width="107" height="13" class="card"/><text x="49" y="131.5" class="t2">Administrator</text><rect x="49" y="134.5" width="45" height="3" fill="#e4e8eb"/>
<rect x="46" y="143" width="107" height="13" class="card"/><text x="49" y="147.5" class="t2">Supervisor</text><rect x="49" y="150.5" width="45" height="3" fill="#e4e8eb"/>
<rect x="46" y="159" width="107" height="13" class="card"/><text x="49" y="163.5" class="t2">Operator</text><rect x="49" y="166.5" width="45" height="3" fill="#e4e8eb"/>
<rect x="46" y="175" width="107" height="13" class="card"/><text x="49" y="179.5" class="t2">Technician</text><rect x="49" y="182.5" width="45" height="3" fill="#e4e8eb"/>
</g>

<g id="settings4" transform="translate(1293 805.3)">
<rect class="fr" width="162.7" height="92"/><rect y="9.5" width="39" height="82.5" class="side"/>
<use href="#head"/><use href="#nav"/><use href="#foot" y="92"/><rect x="3" y="71" width="34" height="5" class="act"/>
<text x="43" y="17" class="t1">Settings</text><text x="43" y="21.5" class="t2">Configure system preferences, thresholds, and integrations</text>
<rect x="43" y="27" width="116" height="5.4" rx="1.4" fill="#e9edf0"/><rect x="100" y="27.6" width="18" height="4.2" rx="1" class="wh"/>
<rect x="43" y="37" width="116" height="41" rx="1.5" class="card"/><text x="47" y="43" class="t3">IoT Device Configuration</text><text x="47" y="47" class="t2">Configure IoT sensors and monitoring devices</text>
<rect x="47" y="53" width="50" height="5" class="in"/><rect x="104" y="53" width="51" height="5" class="in"/>
<text x="47" y="64" class="t2">Auto-discovery of devices</text><text x="47" y="71" class="t2">Device health monitoring</text>
<rect x="148" y="62" width="4" height="3" class="bt"/><rect x="148" y="69" width="4" height="3" class="bt"/>
</g>

<g id="settings5" transform="translate(1471 805.3)">
<rect class="fr" width="159.7" height="126.7"/><rect y="9.5" width="39" height="117.2" class="side"/>
<use href="#head"/><use href="#nav"/><use href="#foot" y="126.7"/><rect x="3" y="111" width="34" height="5" class="act"/>
<text x="43" y="17" class="t1">Settings</text><text x="43" y="21.5" class="t2">Configure system preferences, thresholds, and integrations</text>
<rect x="43" y="27" width="113" height="5.4" rx="1.4" fill="#e9edf0"/><rect x="118" y="27.6" width="18" height="4.2" rx="1" class="wh"/>
<rect x="43" y="37" width="113" height="82" rx="1.5" class="card"/><text x="50" y="43.5" class="t3">External Integrations</text><text x="47" y="47.5" class="t2">Connect with external systems and APIs</text>
<rect x="46" y="51" width="107" height="11" class="card"/><text x="49" y="56" class="t2">Hospital ERP System</text><rect x="123" y="54" width="13" height="3" class="bt"/><text x="140" y="57" class="t2">Configure</text>
<rect x="46" y="64" width="107" height="11" class="card"/><text x="49" y="69" class="t2">Email Service (SMTP)</text><rect x="123" y="67" width="13" height="3" class="bt"/><text x="140" y="70" class="t2">Configure</text>
<rect x="46" y="77" width="107" height="11" class="card"/><text x="49" y="82" class="t2">SMS Gateway</text><rect x="121" y="80" width="15" height="3" class="rd"/><text x="140" y="83" class="t2">Configure</text>
<rect x="46" y="90" width="107" height="11" class="card"/><text x="49" y="95" class="t2">WhatsApp Business API</text><rect x="123" y="93" width="13" height="3" class="bt"/><text x="140" y="96" class="t2">Configure</text>
<rect x="46" y="103" width="107" height="11" class="card"/><text x="49" y="108" class="t2">Backup Storage (Cloud)</text><rect x="123" y="106" width="13" height="3" class="bt"/><text x="140" y="109" class="t2">Configure</text>
</g>

<g id="settings6" transform="translate(1653.3 805.3)">
<rect class="fr" width="157.7" height="119.7"/><rect y="9.5" width="39" height="110" class="side"/>
<use href="#head"/><use href="#nav"/><use href="#foot" y="119.7"/><rect x="3" y="104" width="34" height="5" class="act"/>
<rect x="43" y="37" width="113" height="78" rx="1.5" class="card"/>
<text x="47" y="54" class="t2">Regular Data Backup</text><text x="47" y="60" class="t2">Backup Frequency</text><text x="47" y="68" class="t2">Audit Logging</text>
<text x="47" y="86" class="t3">Data Retention</text><text x="47" y="93" class="t2">Sensor Data Retention</text>
<rect x="47" y="95" width="52" height="4.5" class="in"/><rect x="101" y="95" width="52" height="4.5" class="in"/>
<rect x="47" y="103" width="27" height="5.4" class="rd"/><text x="60.5" y="106.8" class="tw tc">Export Complete Report</text><text x="47" y="113" class="t2">Download complete system data as a report</text>
<rect x="145" y="51" width="5" height="3" rx="1.4" class="bt"/><rect x="145" y="67" width="5" height="3" rx="1.4" class="bt"/>
</g>

<g id="sistema-a" transform="translate(1821.4 804.3)"><use href="#sys"/></g>
<g id="sistema-b" transform="translate(2072.4 805)"><use href="#sys"/><rect width="238.7" height="127.4" fill="#000" fill-opacity=".45"/>
<rect x="80.4" y="50" width="78.6" height="27.3" fill="#fff"/><text x="84" y="57" class="t4">Confirm Logout</text><text x="84" y="62" class="t2">Are you sure you want to log out of</text><text x="84" y="65.5" class="t2">the system?</text><rect x="135" y="68" width="21" height="6" class="bt"/></g>

<g id="flow-1">
<path d="M156 45H30a12 12 0 0 0-12 12v23.7a12 12 0 0 0 12 12H156z" class="tag"/>
<text x="34.5" y="77" class="tt">Flow 1</text>
<rect x="121" y="58" width="23" height="22.5" rx="1.5" class="ic"/><path d="M121 63.5H144M128 66.5L137 71L128 76z" class="ic"/>
</g>
<g id="flow-2">
<path d="M1821.4 805H1692a12 12 0 0 0-12 12v24a12 12 0 0 0 12 12H1821.4z" class="tag"/>
<text x="1696" y="837" class="tt">Flow 2</text>
<rect x="1786" y="818" width="22.5" height="22.5" rx="1.5" class="ic"/><path d="M1786 823.5H1808.5M1793.5 826.5L1802 831L1793.5 835.5z" class="ic"/>
</g>

<g id="connectors">
<path class="c e" d="M254 103C270 98 285 97 304 97"/>
<path class="c e" d="M399 103C360 100 330 97 294 97"/>
<path class="c e" d="M225 132L225 161.7"/>
<path class="c e" d="M225 247L225 149"/>
<path class="c e" d="M228 111C265 110 300 125 340 157C370 180 410 202 477 202"/>
<path class="c e" d="M229 240C300 240 350 215 400 207C430 202 450 202 477 202"/>
<path class="c e" d="M621 685C560 680 500 660 460 628C380 565 300 480 277 400C250 320 225 230 225 149"/>
<path class="c e" d="M2203 875C1960 870 1750 845 1613 834C1500 824 1350 808 1240 788C1120 762 1010 712 913 673C850 648 780 630 727 610C650 578 540 520 460 467C380 410 310 350 273 297C245 250 225 200 225 149"/>
<path class="c e" d="M2216 875C1990 868 1750 840 1613 832C1480 815 1340 790 1240 767C1120 735 1010 695 920 668C860 650 790 630 743 613C690 590 630 545 593 490C570 455 547 420 547 362"/>
<path class="c e" d="M497 76C545 84 580 124 637 124"/>
<path class="c e" d="M494 84C600 88 700 90 799 89"/>
<path class="c e" d="M492 90C560 92 640 98 700 104C780 112 868 125 868 162"/>
<path class="c e" d="M497 84C560 95 620 115 660 133C730 160 790 195 827 227C855 255 868 280 868 317"/>
<path class="c e" d="M493 104C540 110 590 130 627 147C690 178 750 235 793 283C835 335 868 450 868 536"/>
<path class="c e" d="M591 52C593 150 598 260 617 377C630 470 637 570 637 663"/>
<path class="c e" d="M493 348C560 350 650 390 700 426C790 490 868 570 868 664"/>
<path class="c e" d="M492 355C540 355 590 362 623 380C680 415 740 470 780 527C825 590 868 690 868 800"/>
<path class="c e" d="M529 687C530 600 546 480 547 362"/>
<path class="c e" d="M818 640C820 680 830 710 843 737C860 750 868 770 868 800"/>
<path class="c e" d="M811 959C812 915 825 880 847 860C860 830 868 800 868 760"/>
<path class="c e" d="M810 217C812 250 835 255 850 275C862 290 868 300 868 317"/>
<path class="c e" d="M809 378C810 410 825 430 840 447C860 475 868 500 868 536"/>
<path class="c e" d="M913 541C870 541 840 543 800 552C720 570 640 610 637 663"/>
<path class="c e" d="M913 541C915 555 905 585 930 594C940 598 950 599 963.5 599"/>
<path class="c e" d="M1068 547C1010 552 960 570 913 590C880 610 868 630 868 664"/>
<path class="c e" d="M913 669C960 667 1083 655 1083 673"/>
<path class="c" d="M813 750C840 730 870 680 913 669"/>
<path class="c e" d="M813 750C800 760 780 766 757 766"/>
<path class="c e" d="M813 750C835 760 868 770 868 800"/>
<path class="c e" d="M630 679C700 682 780 715 847 757C860 770 868 780 868 800"/>
<path class="c e" d="M873 829C885 840 890 862 905 872C918 884 930 886 948 886"/>
<path class="c e" d="M1047 834C1058 860 1060 885 1075 895C1090 905 1105 906 1123 906"/>
<path class="c e" d="M1040 834C1056 852 1055 885 1072 897C1088 906 1105 906 1123 906"/>
<path class="c e" d="M1235 834C1245 848 1265 851 1293 851"/>
<path class="c e" d="M1429 834C1420 860 1440 868 1472 867"/>
<path class="c e" d="M1620 834C1600 860 1625 866 1653 866"/>
<path class="c" d="M1657 829C1640 830 1630 832 1620 832"/>
<path class="c e" d="M1932 825C1975 825 1990 850 2025 866C2035 870 2050 868 2072.4 868"/>
<path class="c e" d="M2203 875C2150 876 2110 872 2060 868"/>
</g>
<g id="handles">
<circle class="o" cx="254" cy="103" r="9.6"/><circle class="o" cx="399" cy="103" r="9.6"/><circle class="o" cx="228" cy="111" r="9.6"/><circle class="o" cx="225" cy="132" r="9.6"/><circle class="o" cx="229" cy="240" r="9.6"/><circle class="o" cx="225" cy="247" r="9.6"/>
<circle class="o" cx="591" cy="52" r="9.6"/><circle class="o" cx="492" cy="90" r="9.6"/><circle class="o" cx="497" cy="84" r="9.6"/><circle class="o" cx="497" cy="76" r="9.6"/><circle class="o" cx="493" cy="104" r="9.6"/><circle class="o" cx="492" cy="355" r="9.6"/><circle class="o" cx="493" cy="348" r="9.6"/>
<circle class="o" cx="810" cy="217" r="9.6"/><circle class="o" cx="809" cy="378" r="9.6"/><circle class="o" cx="913" cy="541" r="9.6"/><circle class="o" cx="1068" cy="547" r="9.6"/><circle class="o" cx="818" cy="640" r="9.6"/><circle class="o" cx="913" cy="669" r="9.6"/><circle class="o" cx="813" cy="750" r="9.6"/>
<circle class="o" cx="529" cy="687" r="9.6"/><circle class="o" cx="621" cy="685" r="9.6"/><circle class="o" cx="630" cy="679" r="9.6"/>
<circle class="o" cx="873" cy="829" r="9.6"/><circle class="o" cx="811" cy="959" r="9.6"/><circle class="o" cx="1040" cy="834" r="9.6"/><circle class="o" cx="1047" cy="834" r="9.6"/><circle class="o" cx="1235" cy="834" r="9.6"/><circle class="o" cx="1429" cy="834" r="9.6"/><circle class="o" cx="1620" cy="834" r="9.6"/><circle class="o" cx="1657" cy="829" r="9.6"/><circle class="o" cx="1932" cy="825" r="9.6"/><circle class="o" cx="2203" cy="875" r="9.6"/><circle class="o" cx="2216" cy="875" r="9.6"/>
</g>
</svg>
